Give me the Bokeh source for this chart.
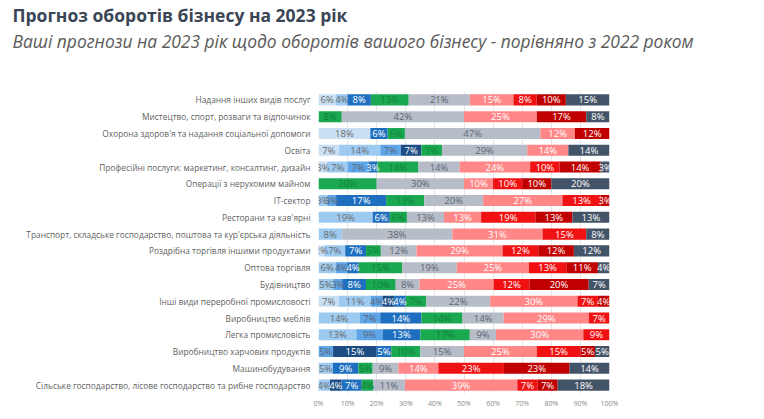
import numpy as np
from bokeh.plotting import figure
from bokeh.layouts import column, row
from bokeh.models import ColumnDataSource, FactorRange, FixedTicker, Legend, LegendItem, Title
from bokeh.core.properties import value
from bokeh.embed import file_html
from bokeh.resources import INLINE

categories = [
    "Надання інших видів послуг",
    "Мистецтво, спорт, розваги та відпочинок",
    "Охорона здоров'я та надання соціальної допомоги",
    "Освіта",
    "Професійні послуги: маркетинг, консалтинг, дизайн",
    "Операції з нерухомим майном",
    "IT-сектор",
    "Ресторани та кав'ярні",
    "Транспорт, складське господарство, поштова та кур'єрська діяльність",
    "Роздрібна торгівля іншими продуктами",
    "Оптова торгівля",
    "Будівництво",
    "Інші види переробної промисловості",
    "Виробництво меблів",
    "Легка промисловість",
    "Виробництво харчових продуктів",
    "Машинобудування",
    "Сільське господарство, лісове господарство та рибне господарство",
]

legend_lines = [
    ["Бізнес зросте  в 4 і", "більше разів (в гривнях,", "порівняно з 2022 роком)"],
    ["Бізнес зросте  в 2-3 рази", "(в гривнях, порівняно з", "2022 роком)"],
    ["190%-200% від 2022", "(ріст 90-100%)"],
    ["170%-180% від 2022", "(ріст 70-80%)"],
    ["150%-160% від 2022", "(ріст 50-60%)"],
    ["130%-140% від 2022", "(ріст 30-40%)"],
    ["110%-120% від 2022", "(ріст 10-20%)"],
    ["Майже як у 2022"],
    ["50%-90% від 2022"],
    ["до 50% від 2022"],
    ["Бізнес не буде", "працювати / зупинено"],
]

grow_4x     = [6, 0, 18, 7, 3, 0, 0, 0, 0, 2, 0, 0, 7, 0, 0, 0, 0, 0]
grow_2_3x   = [4, 0, 0, 14, 7, 0, 3, 19, 8, 7, 6, 5, 11, 14, 13, 0, 5, 4]
pct_190_200 = [0, 0, 0, 7, 7, 0, 3, 0, 0, 0, 4, 3, 4, 7, 9, 5, 0, 0]
pct_170_180 = [0, 0, 0, 7, 0, 0, 0, 0, 0, 0, 0, 0, 4, 0, 0, 15, 0, 4]
pct_150_160 = [8, 0, 6, 0, 3, 0, 17, 6, 0, 7, 4, 8, 4, 14, 13, 5, 9, 7]
pct_130_140 = [13, 8, 6, 7, 14, 20, 13, 6, 0, 5, 15, 10, 7, 14, 17, 10, 5, 4]
pct_110_120 = [21, 42, 47, 29, 14, 30, 20, 13, 38, 12, 19, 8, 22, 14, 9, 15, 9, 11]
same_2022   = [15, 25, 12, 14, 24, 10, 27, 13, 31, 29, 25, 25, 30, 29, 30, 25, 14, 39]
pct_50_90   = [8, 0, 0, 0, 10, 10, 13, 19, 15, 12, 13, 12, 7, 7, 9, 15, 23, 7]
below_50    = [10, 17, 12, 0, 14, 10, 3, 13, 0, 12, 11, 20, 4, 0, 0, 5, 23, 7]
stopped     = [15, 8, 0, 14, 3, 20, 0, 13, 8, 12, 4, 7, 0, 0, 0, 5, 14, 18]

tick_values = [0, 10, 20, 30, 40, 50, 60, 70, 80, 90, 100]
tick_labels = ["0%", "10%", "20%", "30%", "40%", "50%", "60%", "70%", "80%", "90%", "100%"]

series = [grow_4x, grow_2_3x, pct_190_200, pct_170_180, pct_150_160, pct_130_140,
          pct_110_120, same_2022, pct_50_90, below_50, stopped]
colors = ["#c9dff4", "#9ccaf1", "#5fa6e8", "#1d4d84", "#1f6fc0", "#1aa950",
          "#b6bdc9", "#ff8787", "#f01212", "#c00000", "#445468"]
label_colors = ["#6b6b6b", "#6b6b6b", "#5a6573", "white", "white", "#12803c",
                "#5f6670", "white", "white", "white", "white"]

FONT = "Open Sans"

vals = np.array(series, dtype=float)
totals = vals.sum(axis=0)
scaled = vals * 100.0 / totals
lefts = np.cumsum(scaled, axis=0) - scaled

# ---------- title strip ----------
tfig = figure(width=764, height=63, output_backend="svg", toolbar_location=None,
              x_axis_location=None, y_axis_location=None,
              min_border_left=0, min_border_right=0, min_border_top=3, min_border_bottom=0)
tfig.outline_line_color = None
tfig.xgrid.visible = False
tfig.ygrid.visible = False
tfig.add_layout(Title(text="Ваші прогнози на 2023 рік щодо оборотів вашого бізнесу - порівняно з 2022 роком",
                      align="left", offset=12, standoff=0,
                      text_font=FONT, text_font_style="italic", text_font_size="17.4px",
                      text_color="#5a5a5a"), "above")
tfig.add_layout(Title(text="Прогноз оборотів бізнесу на 2023 рік",
                      align="left", offset=12, standoff=0,
                      text_font=FONT, text_font_style="bold", text_font_size="17.5px",
                      text_color="#3a4656"), "above")

# ---------- bars ----------
p = figure(width=640, height=356, title=None,
           y_range=FactorRange(factors=categories[::-1]), x_range=(0, 100),
           output_backend="svg", toolbar_location=None,
           min_border_left=318, min_border_right=31,
           min_border_top=28, min_border_bottom=26)
p.outline_line_color = None
p.background_fill_color = "white"
p.border_fill_color = "white"

for i in range(len(series)):
    src = ColumnDataSource(dict(
        cat=categories,
        left=lefts[i],
        right=lefts[i] + scaled[i],
    ))
    p.hbar(y="cat", left="left", right="right", height=0.66, source=src,
           fill_color=colors[i], line_color=None)

lx, ly, lt, lc = [], [], [], []
for i in range(len(series)):
    for j, c in enumerate(categories):
        v = series[i][j]
        if v > 0:
            lx.append(lefts[i][j] + scaled[i][j] / 2)
            ly.append(c)
            lt.append(f"{v}%")
            lc.append(label_colors[i])
lsrc = ColumnDataSource(dict(x=lx, y=ly, text=lt, color=lc))
p.text(x="x", y="y", text="text", source=lsrc, text_color="color",
       text_align="center", text_baseline="middle",
       text_font=value(FONT), text_font_size="9.5px")

p.xgrid.ticker = FixedTicker(ticks=tick_values)
p.xgrid.grid_line_color = "#e4e4e4"
p.ygrid.grid_line_color = None
p.xaxis.ticker = FixedTicker(ticks=tick_values)
p.xaxis.major_label_overrides = {v: l for v, l in zip(tick_values, tick_labels)}
p.xaxis.axis_line_color = None
p.xaxis.major_tick_line_color = None
p.xaxis.minor_tick_line_color = None
p.xaxis.major_tick_out = 0
p.xaxis.major_tick_in = 0
p.xaxis.major_label_text_font = FONT
p.xaxis.major_label_text_font_size = "7px"
p.xaxis.major_label_text_color = "#8a8a8a"
p.xaxis.major_label_standoff = 5

p.yaxis.axis_line_color = None
p.yaxis.major_tick_line_color = None
p.yaxis.minor_tick_line_color = None
p.yaxis.major_tick_out = 0
p.yaxis.major_tick_in = 0
p.yaxis.major_label_text_font = FONT
p.yaxis.major_label_text_font_size = "8.35px"
p.yaxis.major_label_text_color = "#5f5f5f"
p.yaxis.major_label_standoff = 8

# ---------- legend (in a side panel, so it is not clipped to a frame) ----------
lfig = figure(width=124, height=356, title=None, output_backend="svg", toolbar_location=None,
              x_axis_location=None, y_axis_location=None,
              x_range=(0, 1), y_range=(0, 1),
              min_border_left=0, min_border_right=0, min_border_top=28, min_border_bottom=26)
lfig.outline_line_color = None
lfig.xgrid.visible = False
lfig.ygrid.visible = False

# swatch renderers sit outside the visible range; only their legend glyphs show
swatches = [lfig.hbar(y=[-10], left=[-10], right=[-9], height=0.5, fill_color=c, line_color=None)
            for c in colors]
blank = lfig.hbar(y=[-10], left=[-10], right=[-9], height=0.5, fill_alpha=0, line_alpha=0)

items = []
for i, lines in enumerate(legend_lines):
    rows = list(lines)
    if i < len(legend_lines) - 1:
        rows = rows + [" "] * (3 - len(rows))
    for k, line in enumerate(rows):
        items.append(LegendItem(label=line, renderers=[swatches[i] if k == 0 else blank]))

legend = Legend(items=items, location=(5, -19),
                label_text_font=FONT, label_text_font_size="8.07px",
                label_text_color="#8a8a8a", label_height=10, label_standoff=3,
                glyph_width=5, glyph_height=5, spacing=0, padding=0, margin=0,
                border_line_color=None, background_fill_alpha=0)
lfig.add_layout(legend, "right")

layout = column(tfig, row(p, lfig))

with open("out.html", "w") as f:
    f.write(file_html(layout, INLINE))
